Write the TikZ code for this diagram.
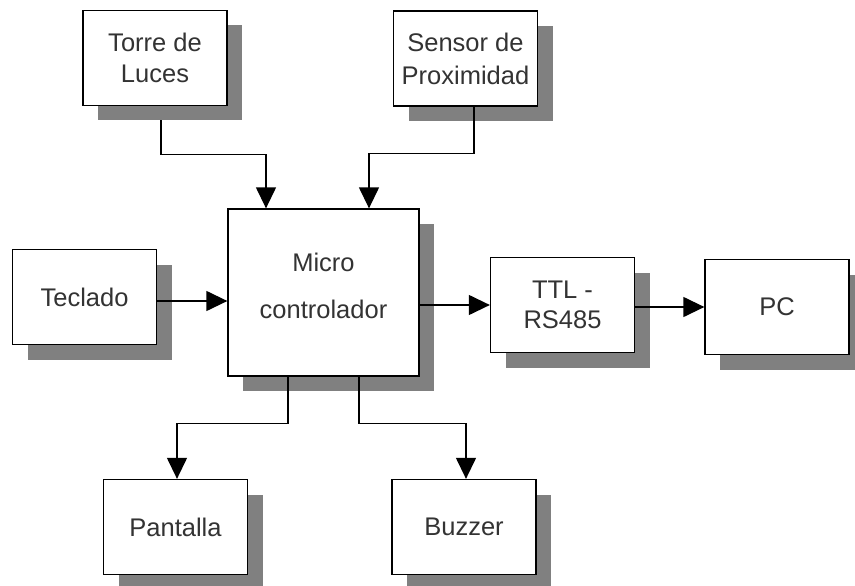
\documentclass[tikz,border=0pt]{standalone}
\usepackage{fontspec}
\setmainfont{Liberation Sans}
\usetikzlibrary{arrows.meta,shadows}
\pgfdeclarelayer{behind}
\pgfsetlayers{behind,main}

\begin{document}
\begin{tikzpicture}[x=1pt,y=-1pt,
  block/.style={draw=black, line width=1.3pt, fill=white, text=black!80,
    minimum width=144pt, minimum height=95pt, inner sep=0pt,
    align=center, font=\fontsize{25.5}{31}\selectfont,
    drop shadow={shadow xshift=15pt, shadow yshift=-15pt,
      fill=black!50, opacity=1}},
  link/.style={line width=1.3pt, -{Triangle[length=21pt,width=20pt]}}]

\useasboundingbox (0,0) rectangle (855,586);

% blocks
\node[block] (torre)   at (155,58)     {Torre de\\Luces};
\node[block, font=\fontsize{25.5}{33}\selectfont]
             (sensor)  at (465.5,58.5) {Sensor de\\Proximidad};
\node[block, minimum width=191pt, minimum height=167pt]
             (micro)   at (323.5,292.5) {};
\node[font=\fontsize{25.5}{47}\selectfont, text=black!80, align=center, inner sep=0pt]
             (microtxt) at ([yshift=7pt]micro.center) {Micro\\controlador};
\node[block] (teclado) at (84.5,297)   {Teclado};
\node[block, font=\fontsize{25.5}{30}\selectfont]
             (ttl)     at (562.5,305)  {TTL -\\RS485};
\node[block] (pc)      at (777,307)    {PC};
\node[block] (pantalla) at (175.5,527) {Pantalla};
\node[block] (buzzer)  at (464,527)    {Buzzer};

% the tower line starts under its shadow
\begin{pgfonlayer}{behind}
\draw[link] ([xshift=6pt]torre.south) -- ++(0,48) -| ([xshift=-57.5pt]micro.north);
\end{pgfonlayer}

% connectors
\draw[link] ([xshift=8.5pt]sensor.south) -- ++(0,47) -| ([xshift=45.5pt]micro.north);
\draw[link] ([yshift=-4pt]teclado.east) -- ([yshift=-4pt]teclado.east -| micro.west);
\draw[link] (ttl.west -| micro.east) -- (ttl.west);
\draw[link] ([yshift=-2pt]ttl.east) -- ([yshift=-2pt]ttl.east -| pc.west);
\draw[link] ([xshift=-35.5pt]micro.south) -- ++(0,47) -| ([xshift=1.5pt]pantalla.north);
\draw[link] ([xshift=35.5pt]micro.south) -- ++(0,47) -| ([xshift=2pt]buzzer.north);

\end{tikzpicture}
\end{document}
